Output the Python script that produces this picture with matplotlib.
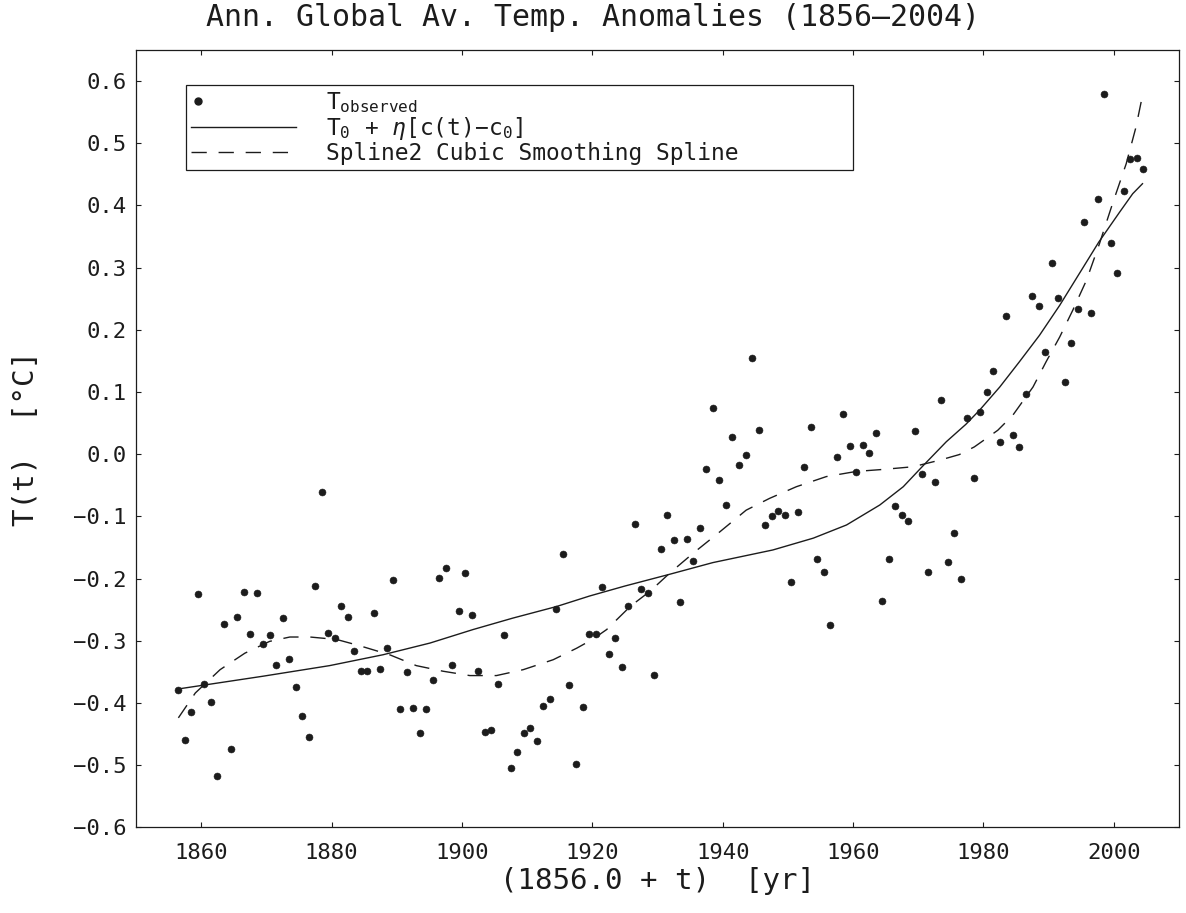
import numpy as np
import matplotlib
matplotlib.use("Agg")
import matplotlib.pyplot as plt
from matplotlib.lines import Line2D
from matplotlib.legend_handler import HandlerLine2D
from matplotlib.ticker import FuncFormatter

plt.rcParams["font.family"] = ["DejaVu Sans Mono", "DejaVu Sans"]
plt.rcParams["mathtext.fontset"] = "custom"
plt.rcParams["mathtext.rm"] = "DejaVu Sans Mono"
plt.rcParams["mathtext.it"] = "DejaVu Sans Mono:italic"

# ---------------- data ----------------
years = np.arange(1856, 2005)
temp_obs = [
    -0.380, -0.460, -0.415, -0.225, -0.370, -0.399, -0.518, -0.273, -0.474, -0.262,
    -0.222, -0.289, -0.224, -0.305, -0.290, -0.339, -0.263, -0.329, -0.375, -0.421,
    -0.454, -0.212, -0.060, -0.288, -0.295, -0.244, -0.262, -0.317, -0.348, -0.349,
    -0.256, -0.345, -0.311, -0.203, -0.409, -0.351, -0.408, -0.448, -0.410, -0.363,
    -0.199, -0.183, -0.339, -0.252, -0.191, -0.258, -0.349, -0.446, -0.443, -0.370,
    -0.291, -0.505, -0.479, -0.448, -0.440, -0.462, -0.405, -0.394, -0.249, -0.161,
    -0.371, -0.498, -0.406, -0.289, -0.289, -0.214, -0.321, -0.295, -0.342, -0.244,
    -0.113, -0.217, -0.223, -0.355, -0.152, -0.097, -0.138, -0.237, -0.136, -0.171,
    -0.119, -0.024, 0.074, -0.042, -0.081, 0.027, -0.017, -0.002, 0.154, 0.039,
    -0.114, -0.100, -0.092, -0.098, -0.206, -0.093, -0.020, 0.043, -0.168, -0.189,
    -0.275, -0.005, 0.064, 0.013, -0.029, 0.014, 0.002, 0.034, -0.236, -0.168,
    -0.083, -0.097, -0.108, 0.038, -0.032, -0.189, -0.045, 0.087, -0.173, -0.127,
    -0.201, 0.058, -0.039, 0.068, 0.100, 0.134, 0.019, 0.222, 0.031, 0.012,
    0.096, 0.255, 0.239, 0.164, 0.308, 0.251, 0.116, 0.179, 0.233, 0.373,
    0.227, 0.411, 0.580, 0.340, 0.291, 0.423, 0.475, 0.477, 0.458,
]

# CO2-driven model curve  T0 + eta[c(t)-c0]
model_x = [1856.5, 1869.5, 1879.7, 1887.9, 1895.1, 1901.7, 1907.8, 1914.5, 1919.6,
           1925.0, 1931.9, 1938.5, 1947.7, 1953.9, 1959.0, 1964.1, 1967.7, 1970.7,
           1974.3, 1977.3, 1979.4, 1982.5, 1985.5, 1988.6, 1991.7, 1994.7, 1997.7,
           2000.9, 2002.9, 2004.4]
model_T = [-0.3775, -0.357, -0.340, -0.3225, -0.3037, -0.282, -0.2636, -0.245, -0.228,
           -0.212, -0.193, -0.1743, -0.154, -0.135, -0.1138, -0.0817, -0.0523, -0.019,
           0.020, 0.048, 0.0707, 0.108, 0.1484, 0.1912, 0.2394, 0.2903, 0.3412,
           0.3894, 0.4189, 0.435]

# Spline2 cubic smoothing spline
spline_x = [1856.5, 1859.1, 1862.9, 1866.7, 1870.5, 1873.6, 1876.7, 1880.8, 1884.3,
            1888.9, 1893.0, 1897.1, 1901.2, 1905.3, 1909.4, 1914.0, 1917.6, 1920.0,
            1922.2, 1925.9, 1928.9, 1931.9, 1935.5, 1939.6, 1943.6, 1947.2, 1951.3,
            1955.9, 1960.5, 1964.6, 1969.2, 1973.3, 1976.3, 1978.6, 1980.4, 1982.2,
            1984.5, 1987.6, 1989.6, 1991.7, 1993.7, 1995.8, 1997.8, 1999.8, 2001.9,
            2003.4, 2004.4]
spline_T = [-0.424, -0.384, -0.3465, -0.320, -0.301, -0.294, -0.294, -0.298, -0.308,
            -0.3225, -0.340, -0.349, -0.356, -0.356, -0.3465, -0.3305, -0.312, -0.298,
            -0.282, -0.244, -0.220, -0.191, -0.159, -0.1245, -0.090, -0.071, -0.0523,
            -0.036, -0.0277, -0.0245, -0.0202, -0.0096, -0.0006, 0.0117, 0.025, 0.0385,
            0.0626, 0.108, 0.1484, 0.1885, 0.2314, 0.2796, 0.3386, 0.4028, 0.4671,
            0.526, 0.577]

x_ticks = [1860, 1880, 1900, 1920, 1940, 1960, 1980, 2000]
y_ticks = [-0.6, -0.5, -0.4, -0.3, -0.2, -0.1, 0.0, 0.1, 0.2, 0.3, 0.4, 0.5, 0.6]

title = "Ann. Global Av. Temp. Anomalies (1856\u20132004)"
x_label = "(1856.0 + t)  [yr]"
y_label = "T(t)  [\u00b0C]"
legend_labels = [r"T$_{\mathrm{observed}}$",
                 r"T$_{\mathrm{0}}$ + $\eta$[c(t)$-$c$_{\mathrm{0}}$]",
                 "Spline2 Cubic Smoothing Spline"]

# ---------------- figure ----------------
W, H = 1186, 913
fig = plt.figure(figsize=(W / 100, H / 100), dpi=100)
fig.patch.set_facecolor("white")
ax_l, ax_r, ax_t, ax_b = 136, 1179, 50, 827.3
ax = fig.add_axes([ax_l / W, (H - ax_b) / H, (ax_r - ax_l) / W, (ax_b - ax_t) / H])

ink = "#1c1c1c"
t_obs = years - 1856 + 0.5
x_obs = 1856.0 + t_obs

ax.plot(x_obs, temp_obs, ls="none", marker="o", ms=5.0, mfc=ink, mec=ink, mew=0.4)
ax.plot(model_x, model_T, color=ink, lw=1.0, solid_joinstyle="round")
ax.plot(spline_x, spline_T, color=ink, lw=1.0, dashes=(11, 8.5))

ax.set_xlim(1850, 2010)
ax.set_ylim(-0.6, 0.65)
ax.set_xticks(x_ticks)
ax.set_yticks(y_ticks)


def yfmt(v, pos):
    s = "%.1f" % v
    if s == "-0.0":
        s = "0.0"
    return s.replace("-", "\u2212")


ax.yaxis.set_major_formatter(FuncFormatter(yfmt))
ax.tick_params(direction="in", length=3.8, width=0.8, top=True, right=True,
               labelsize=16, colors=ink)
ax.tick_params(axis="y", pad=7)
ax.tick_params(axis="x", pad=11)
for sp in ax.spines.values():
    sp.set_linewidth(0.9)
    sp.set_color(ink)

ax.set_xlabel(x_label, fontsize=21, color=ink, va="top")
ax.xaxis.set_label_coords(0.5, -0.0517)
ax.set_ylabel(y_label, fontsize=21, color=ink)
ax.yaxis.set_label_coords(-0.092, 0.5)

fig.text(0.5, 1 - 26 / H, title, ha="center", va="baseline", fontsize=21.5, color=ink)


# legend: the observed-marker sits at the left end of its handle
class LeftDotHandler(HandlerLine2D):
    def create_artists(self, *args, **kwargs):
        arts = super().create_artists(*args, **kwargs)
        for a in arts:
            if isinstance(a, Line2D):
                a.set_markevery([0])
        return arts


h_obs = Line2D([], [], ls="none", marker="o", ms=5.0, mfc=ink, mec=ink)
h_mod = Line2D([], [], color=ink, lw=1.0)
h_spl = Line2D([], [], color=ink, lw=1.0, dashes=(11, 8.5))
x0 = (186 - ax_l) / (ax_r - ax_l)
x1 = (853 - ax_l) / (ax_r - ax_l)
ytop = (ax_b - 85) / (ax_b - ax_t)
leg = ax.legend([h_obs, h_mod, h_spl], legend_labels,
                handler_map={h_obs: LeftDotHandler(numpoints=2)},
                loc="upper left", bbox_to_anchor=(x0, ytop - 0.4, x1 - x0, 0.4),
                mode="expand", borderaxespad=0.0, fontsize=16.5,
                handlelength=4.6, handletextpad=1.3, labelspacing=0.0,
                borderpad=0.22, fancybox=False, framealpha=1.0, edgecolor=ink)
leg.get_frame().set_linewidth(0.9)
for txt in leg.get_texts():
    txt.set_color(ink)

fig.savefig("out.png", dpi=100, facecolor="white")
